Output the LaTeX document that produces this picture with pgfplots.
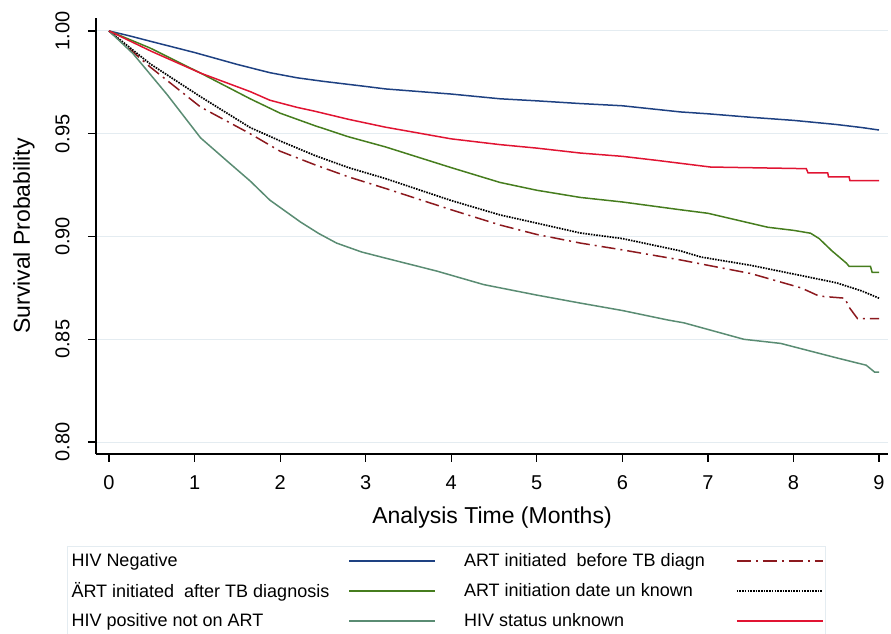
\documentclass[border=0pt]{standalone}
\usepackage{pgfplots}
\pgfplotsset{compat=1.18}
\usepackage{fontspec}
\setmainfont{Liberation Sans}

\definecolor{cNavy}{RGB}{30,65,130}
\definecolor{cRed}{RGB}{225,20,50}
\definecolor{cGreen}{RGB}{70,125,30}
\definecolor{cTeal}{RGB}{90,140,115}
\definecolor{cMaroon}{RGB}{140,25,30}
\definecolor{cGrid}{RGB}{228,236,241}

\begin{document}
\begin{tikzpicture}
\useasboundingbox (0,0) rectangle (891pt,634pt);
\begin{axis}[
    at={(96pt,180pt)}, anchor=south west,
    scale only axis,
    width=792pt, height=436pt,
    xmin=-0.152, xmax=9.105,
    ymin=0.7942, ymax=1.0063,
    axis x line*=bottom, axis y line*=left,
    axis line style={line width=1.3pt},
    xtick={0,1,...,9},
    ytick={0.80,0.85,0.90,0.95,1.00},
    tick align=outside,
    major tick length=8pt,
    tick style={line width=1.2pt, black},
    ymajorgrids,
    grid style={cGrid, line width=1pt},
    /pgf/number format/assume math mode=true,
    yticklabel={\pgfmathprintnumber[fixed,fixed zerofill,precision=2]{\tick}},
    scaled y ticks=false,
    ticklabel style={font=\fontsize{20}{24}\selectfont},
    yticklabel style={rotate=90, anchor=south},
    yticklabel shift=15pt,
    xticklabel shift=10pt,
    label style={font=\fontsize{23}{27}\selectfont},
    xlabel={Analysis Time (Months)},
    ylabel={Survival Probability},
    xlabel style={at={(axis description cs:0.5,-0.1468)}, anchor=center},
    ylabel style={at={(axis description cs:-0.0909,0.5)}, anchor=center, rotate=0},
    legend columns=2,
    legend plot pos=right,
    legend cell align=left,
    legend style={
        at={(axis description cs:-0.0366,-0.211)}, anchor=north west,
        draw=cGrid, line width=1pt,
        font=\fontsize{18}{21}\selectfont,
        inner xsep=2pt, inner ysep=5pt,
        row sep=10.5pt,
        /tikz/every even column/.append style={column sep=26pt},
    },
    legend image code/.code={\draw[line width=1.5pt, #1] (0pt,0pt) -- (86pt,0pt);},
    every axis plot/.append style={line width=1.5pt},
]

% HIV negative
\addplot[color=cNavy] table {
0     1.0000
0.25  0.9975
0.5   0.9948
1.0   0.9895
1.5   0.9837
1.88  0.9797
2.2   0.9772
2.5   0.9755
3.0   0.9730
3.23  0.9718
4.0   0.9693
4.57  0.9670
5.0   0.9660
5.5   0.9647
6.0   0.9636
6.68  0.9606
7.0   0.9597
7.5   0.9580
8.0   0.9565
8.5   0.9545
8.8   0.9530
9.0   0.9518
};
\addlegendentry{\makebox[275pt][l]{HIV Negative}}

% ART initiated before TB diagnosis
\addplot[color=cMaroon, dash pattern=on 14pt off 5pt on 2pt off 5pt] table {
0     1.0000
0.48  0.9825
1.07  0.9630
1.65  0.9500
2.0   0.9415
2.4   0.9350
2.8   0.9290
3.23  0.9234
4.0   0.9130
4.57  0.9056
5.0   0.9010
5.51  0.8968
6.0   0.8935
6.68  0.8886
7.0   0.8860
7.5   0.8820
8.09  0.8750
8.3   0.8710
8.6   0.8700
8.65  0.8656
8.75  0.8600
9.0   0.8600
};
\addlegendentry{\makebox[270pt][l]{ART initiated\ \ before TB diagn}}

% ART initiated after TB diagnosis
\addplot[color=cGreen] table {
0     1.0000
0.48  0.9917
1.07  0.9795
1.65  0.9670
2.0   0.9600
2.4   0.9540
2.8   0.9485
3.23  0.9436
4.0   0.9335
4.57  0.9263
5.0   0.9225
5.51  0.9190
6.0   0.9168
6.68  0.9130
7.0   0.9113
7.7   0.9045
8.0   0.9030
8.2   0.9016
8.3   0.8990
8.45  0.8930
8.62  0.8870
8.65  0.8855
8.9   0.8855
8.92  0.8825
9.0   0.8825
};
\addlegendentry{\makebox[275pt][l]{ÄRT initiated\ \ after TB diagnosis}}

% ART initiation date unknown
\addplot[color=black, line width=1.7pt, dash pattern=on 1.6pt off 1.1pt] table {
0     1.0000
0.48  0.9840
1.07  0.9680
1.65  0.9530
2.0   0.9465
2.4   0.9395
2.8   0.9335
3.23  0.9282
4.0   0.9175
4.57  0.9105
5.0   0.9065
5.51  0.9017
6.0   0.8990
6.68  0.8930
6.92  0.8900
7.5   0.8860
8.09  0.8810
8.5   0.8775
8.8   0.8735
9.0   0.8700
};
\addlegendentry{\makebox[270pt][l]{ART initiation date un known}}

% HIV positive not on ART
\addplot[color=cTeal] table {
0     1.0000
0.28  0.9890
0.68  0.9690
1.07  0.9480
1.4   0.9360
1.65  0.9270
1.88  0.9177
2.24  0.9070
2.45  0.9015
2.66  0.8968
2.95  0.8925
3.23  0.8895
3.83  0.8832
4.38  0.8766
5.0   0.8715
5.51  0.8676
6.0   0.8640
6.53  0.8594
6.72  0.8580
7.42  0.8500
7.85  0.8480
8.52  0.8408
8.85  0.8374
8.95  0.8340
9.0   0.8340
};
\addlegendentry{\makebox[275pt][l]{HIV positive not on ART}}

% HIV status unknown
\addplot[color=cRed] table {
0     1.0000
0.25  0.9950
0.5   0.9900
1.07  0.9795
1.65  0.9705
1.88  0.9663
2.2   0.9628
2.4   0.9610
2.8   0.9570
3.23  0.9532
4.0   0.9475
4.57  0.9447
5.0   0.9430
5.51  0.9406
6.0   0.9390
6.41  0.9370
7.03  0.9338
8.15  0.9330
8.17  0.9310
8.40  0.9310
8.41  0.9290
8.65  0.9290
8.66  0.9272
9.0   0.9272
};
\addlegendentry{\makebox[270pt][l]{HIV status unknown}}

\end{axis}
\end{tikzpicture}
\end{document}
